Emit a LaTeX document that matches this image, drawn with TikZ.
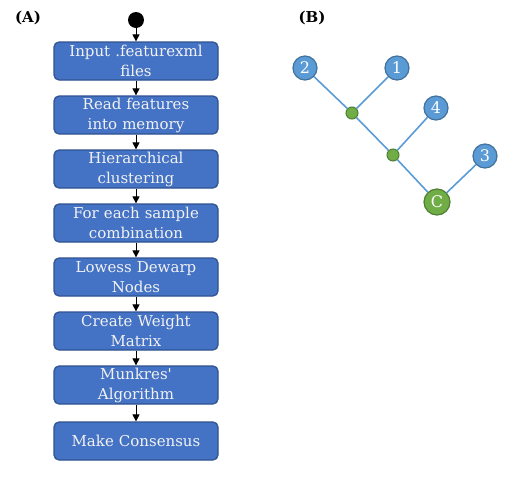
\documentclass[tikz,border=0pt]{standalone}
\usepackage{fontspec}
\setmainfont{DejaVu Serif}
\usetikzlibrary{arrows.meta}

\definecolor{boxblue}{HTML}{4472C4}
\definecolor{boxedge}{HTML}{2F528F}
\definecolor{leafblue}{HTML}{5B9BD5}
\definecolor{leafedge}{HTML}{41719C}
\definecolor{mergegreen}{HTML}{70AD47}
\definecolor{mergeedge}{HTML}{507E32}

\begin{document}
\begin{tikzpicture}[x=1pt, y=-1pt, font=\fontsize{15}{20}\selectfont,
  flowbox/.style={draw=boxedge, fill=boxblue, line width=1.2pt, rounded corners=5pt,
    minimum width=164pt, minimum height=38pt, text width=162pt, align=center,
    inner sep=0pt, text=white!95!black},
  flowarrow/.style={-{Triangle[length=7pt, width=7pt]}, black, line width=0.8pt},
  leaf/.style={circle, draw=leafedge, fill=leafblue, line width=1.2pt,
    minimum size=24pt, inner sep=0pt, text=white, font=\fontsize{16}{18}\selectfont},
  merge/.style={circle, draw=mergeedge, fill=mergegreen, line width=1pt,
    minimum size=12pt, inner sep=0pt},
  treeedge/.style={leafblue, line width=1.6pt}]

\useasboundingbox (0,0) rectangle (512,483);

% Panel labels
\node[font=\fontsize{15}{17}\selectfont\bfseries] (labelA) at (28, 18) {(A)};
\node[font=\fontsize{15}{17}\selectfont\bfseries] (labelB) at (312, 18) {(B)};

% (A) Workflow
\node[circle, fill=black, minimum size=16pt, inner sep=0pt] (start) at (136, 20) {};
\node[flowbox] (input) at (136, 61) {Input .featurexml\\files};
\node[flowbox] (read) at (136, 115) {Read features\\into memory};
\node[flowbox] (cluster) at (136, 169) {Hierarchical\\clustering};
\node[flowbox] (combo) at (136, 223) {For each sample\\combination};
\node[flowbox] (dewarp) at (136, 277) {Lowess Dewarp\\Nodes};
\node[flowbox] (weight) at (136, 331) {Create Weight\\Matrix};
\node[flowbox] (munkres) at (136, 385) {Munkres\textquotesingle\\Algorithm};
\node[flowbox] (consensus) at (136, 441) {Make Consensus};

\draw[flowarrow] (start) -- (input);
\draw[flowarrow] (input) -- (read);
\draw[flowarrow] (read) -- (cluster);
\draw[flowarrow] (cluster) -- (combo);
\draw[flowarrow] (combo) -- (dewarp);
\draw[flowarrow] (dewarp) -- (weight);
\draw[flowarrow] (weight) -- (munkres);
\draw[flowarrow] (munkres) -- (consensus);

% (B) Guide tree
\node[merge] (m1) at (352, 113) {};
\node[merge] (m2) at (393, 155) {};
\node[leaf] (s2) at (305, 68) {2};
\node[leaf] (s1) at (397, 68) {1};
\node[leaf] (s4) at (436, 108) {4};
\node[leaf] (s3) at (485, 156) {3};
\node[leaf, draw=mergeedge, fill=mergegreen, minimum size=26pt] (cons) at (437, 202) {C};

\draw[treeedge] (s2) -- (m1);
\draw[treeedge] (s1) -- (m1);
\draw[treeedge] (m1) -- (m2);
\draw[treeedge] (s4) -- (m2);
\draw[treeedge] (m2) -- (cons);
\draw[treeedge] (s3) -- (cons);

\end{tikzpicture}
\end{document}
